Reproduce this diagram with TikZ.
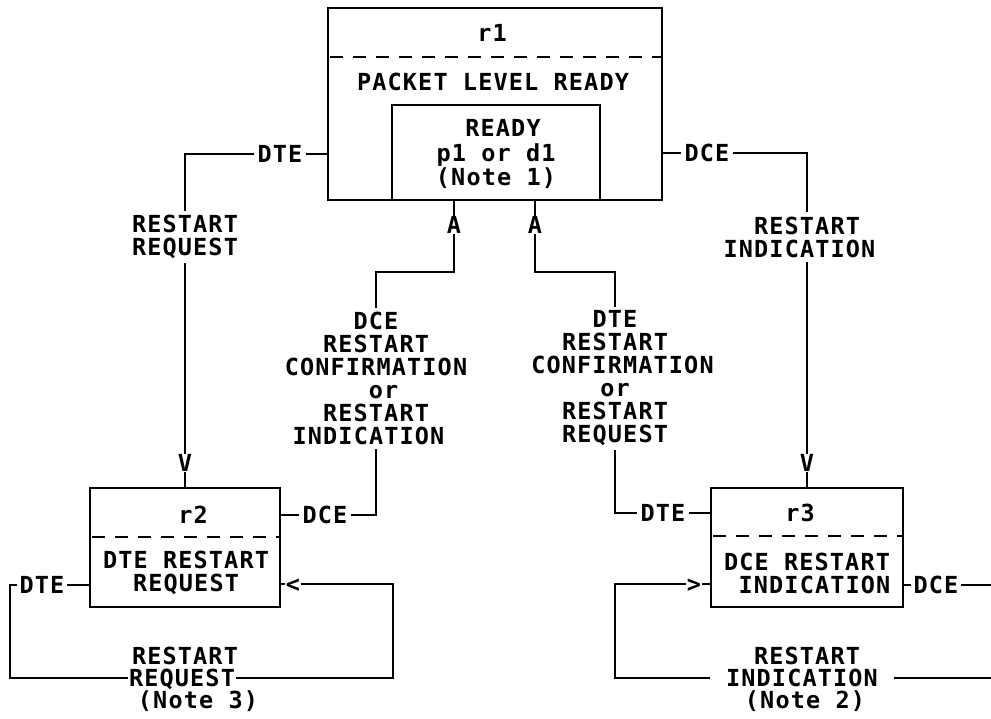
\documentclass[tikz,border=0pt]{standalone}
\usepackage{fontspec}
\setmainfont{DejaVu Sans Mono}[LetterSpace=4.9]
\newcommand\pf{\bfseries\fontsize{23.5}{23}\selectfont}
\begin{document}
\begin{tikzpicture}[x=1pt,y=-1pt,
  lbl/.style={font=\pf, inner sep=3pt, align=center},
  one/.style={font=\pf, inner sep=3pt, text height=17pt, text depth=0pt},
  tip/.style={font=\pf, inner sep=0.5pt, text height=17pt, text depth=0pt},
  box/.style={draw, line width=2.6pt},
  wire/.style={line width=2.4pt},
  sepline/.style={line width=2.4pt, dash pattern=on 13pt off 10pt}]
\useasboundingbox (0,0) rectangle (991,719);

% ---- boxes
\node[box, minimum width=334pt, minimum height=192pt] (r1) at (495,104) {};
\node[box, minimum width=208pt, minimum height=95pt] (in) at (496,152.5) {};
\node[box, minimum width=190pt, minimum height=119pt] (r2) at (185,547.5) {};
\node[box, minimum width=192pt, minimum height=119pt] (r3) at (807,547.5) {};
\draw[sepline] (330,57) -- (662,57);
\draw[sepline] (92,537) -- (280,537);
\draw[sepline] (713,536) -- (903,536);

% ---- box texts
\node[one] (t1) at (492,33) {r1};
\node[one] (t1b) at (493,82) {PACKET LEVEL READY};
\node[lbl, font=\bfseries\fontsize{23.5}{24.5}\selectfont] (t1c) at (496,154) {\hspace*{14pt}READY\\p1 or d1\\(Note 1)};
\node[one] (t2) at (193,515) {r2};
\node[lbl] (t2b) at (186,573) {DTE RESTART\\REQUEST};
\node[one] (t3) at (800,513) {r3};
\node[lbl] (t3b) at (807,573) {DCE RESTART\\\hspace*{15pt}INDICATION};

% ---- top left: DTE -> RESTART REQUEST -> r2
\node[one] (dteA) at (280,154) {DTE};
\node[lbl, inner sep=4pt] (rrq) at (185,237) {RESTART\\REQUEST};
\node[tip] (vA) at (185,463) {V};
\draw[wire] (r1.west |- dteA) -- (dteA.east);
\draw[wire] (dteA.west) -| (rrq.north);
\draw[wire] (rrq.south) -- (vA.north);
\draw[wire] (vA.south) -- (r2.north);

% ---- top right: DCE -> RESTART INDICATION -> r3
\node[one] (dceF) at (707,153) {DCE};
\node[lbl, inner sep=4pt] (ri) at (807,237) {RESTART\\INDICATION\hspace*{15pt}};
\node[tip] (vB) at (807,463) {V};
\draw[wire] (r1.east |- dceF) -- (dceF.west);
\draw[wire] (dceF.east) -| (ri.north);
\draw[wire] (ri.south) -- (vB.north);
\draw[wire] (vB.south) -- (r3.north);

% ---- middle left: r2 -> r1 (DCE ...)
\node[tip] (aL) at (454,225) {A};
\coordinate (kL) at (454,272);
\node[lbl, inner sep=4pt] (cf1) at (376,378.5) {DCE\\RESTART\\CONFIRMATION\hspace*{15pt}\\\hspace*{15pt}or\\RESTART\\INDICATION\hspace*{15pt}};
\node[one] (dceB) at (325,515) {DCE};
\draw[wire] (r1.south -| aL) -- (aL.north);
\draw[wire] (aL.south) -- (kL) -| (cf1.north);
\draw[wire] (cf1.south) |- (dceB.east);
\draw[wire] (dceB.west) -- (r2.east |- dceB);

% ---- middle right: r3 -> r1 (DTE ...)
\node[tip] (aR) at (535,225) {A};
\coordinate (kR) at (535,272);
\node[lbl, inner sep=4pt] (cf2) at (615,378.5) {DTE\\RESTART\\\hspace*{15pt}CONFIRMATION\\or\hspace*{15pt}\\RESTART\\REQUEST};
\node[one] (dteD) at (663,513) {DTE};
\draw[wire] (r1.south -| aR) -- (aR.north);
\draw[wire] (aR.south) -- (kR) -| (cf2.north);
\draw[wire] (cf2.south) |- (dteD.west);
\draw[wire] (dteD.east) -- (r3.west |- dteD);

% ---- bottom left loop on r2
\node[one, inner sep=2pt] (dteC) at (42,585) {DTE};
\coordinate (cL) at (10,585);
\node[one, inner sep=0pt] (nt3a) at (185,656) {RESTART};
\node[one, inner xsep=1pt, inner ysep=0pt] (nt3) at (182,678) {REQUEST};
\node[one, inner sep=0pt] (nt3c) at (198,700) {(Note 3)};
\coordinate (cR) at (393,584);
\node[tip] (lt) at (293,584) {<};
\draw[wire] (r2.west |- dteC) -- (dteC.east);
\draw[wire] (dteC.west) -- (cL) |- (nt3.west);
\draw[wire] (nt3.east) -| (cR) -- (lt.east);
\draw[wire] (lt.west) -- (r2.east |- lt);

% ---- bottom right loop on r3
\node[one, inner sep=2pt] (dceE) at (936,585) {DCE};
\coordinate (eR) at (991,585);
\coordinate (eB) at (991,678);
\node[one, inner sep=0pt] (nt2a) at (807,656) {RESTART};
\node[one, inner xsep=16pt, inner ysep=0pt] (nt2) at (802,678) {INDICATION};
\node[one, inner sep=0pt] (nt2c) at (805,700) {(Note 2)};
\coordinate (cM) at (615,584);
\node[tip] (gt) at (694,584) {>};
\draw[wire] (r3.east |- dceE) -- (dceE.west);
\draw[wire] (dceE.east) -- (eR);
\draw[wire] (eB) -- (nt2.east);
\draw[wire] (nt2.west) -| (cM) -- (gt.west);
\draw[wire] (gt.east) -- (r3.west |- gt);
\end{tikzpicture}
\end{document}
